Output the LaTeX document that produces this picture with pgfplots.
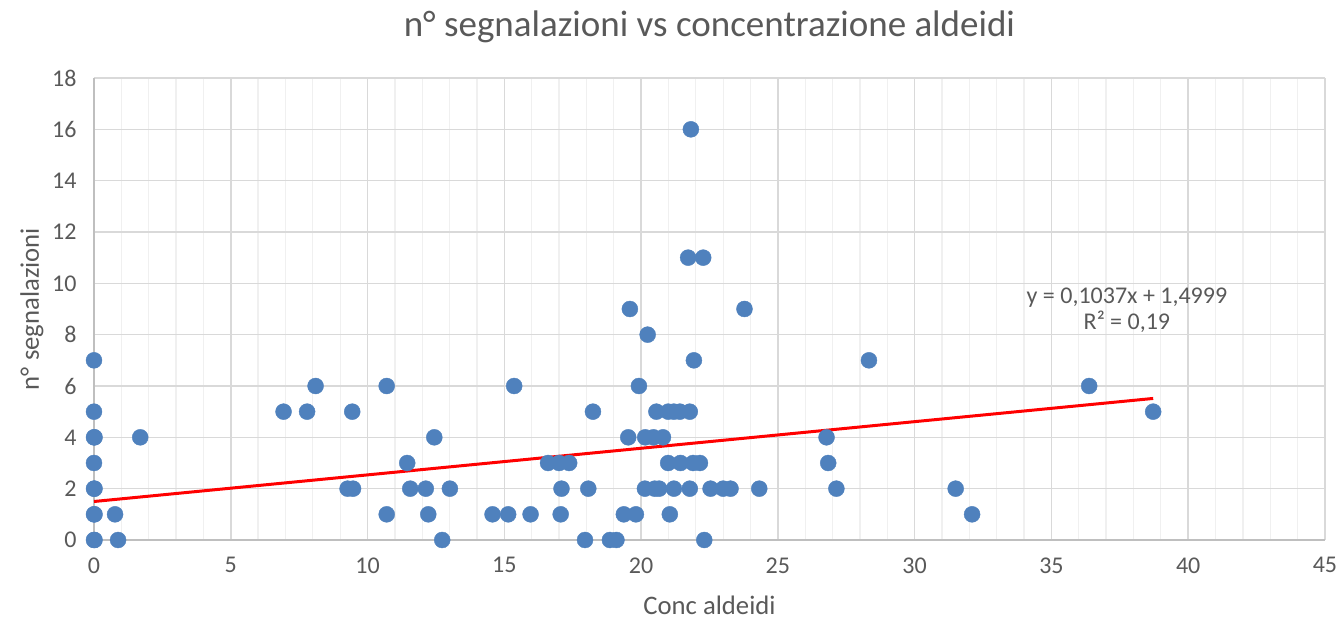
\documentclass[border=0pt]{standalone}
\usepackage{fontspec}
\setmainfont{Carlito}
\usepackage{pgfplots}
\pgfplotsset{compat=1.18}
\definecolor{dotblue}{HTML}{4F81BD}
\definecolor{txtgray}{HTML}{595959}
\definecolor{gridmaj}{HTML}{D9D9D9}
\definecolor{gridmin}{HTML}{F0F0F0}
\definecolor{axgray}{HTML}{BFBFBF}

\begin{document}
\begin{tikzpicture}
\begin{axis}[
    name=ax,
    scale only axis,
    width=1231pt, height=462pt,
    xmin=0, xmax=45, ymin=0, ymax=18,
    xtick={0,5,...,45}, ytick={0,2,...,18},
    minor x tick num=4,
    grid=both,
    major grid style={gridmaj, line width=1.5pt},
    minor grid style={gridmin, line width=1.3pt},
    major tick length=0pt, minor tick length=0pt,
    axis x line*=bottom, axis y line*=left,
    x axis line style={axgray, line width=1.6pt, -},
    y axis line style={axgray, line width=1.3pt, -},
    /pgf/number format/assume math mode=true,
    ticklabel style={font=\fontsize{24}{28}\selectfont, text=txtgray},
    yticklabel style={xshift=-14pt},
    xticklabel style={yshift=-14pt},
    title={n° segnalazioni vs concentrazione aldeidi},
    title style={font=\fontsize{37}{44}\selectfont, text=txtgray,
        at={(axis description cs:0.5,1)}, anchor=base, yshift=35pt},
    xlabel={Conc aldeidi},
    xlabel style={font=\fontsize{26.7}{32}\selectfont, text=txtgray,
        at={(axis description cs:0.5,0)}, anchor=base, yshift=-75pt},
    ylabel={n° segnalazioni},
    ylabel style={font=\fontsize{26.7}{32}\selectfont, text=txtgray,
        at={(axis description cs:-0.0504,0.5)}, anchor=center},
    clip=false,
]
% scatter points
\addplot[only marks, color=dotblue, mark=*, mark size=8pt, mark options={draw=dotblue, fill=dotblue}] coordinates {
(0,0)(0.02,0)(0,1)(0.02,1)(0,2)(0.02,2)(0,3)(0,4)(0.02,4)(0,5)(0,7)
(0.77,1)(0.88,0)(1.69,4)
(6.93,5)(7.79,5)(8.1,6)(9.27,2)(9.47,2)(9.44,5)
(10.7,6)(10.7,1)(11.45,3)(11.56,2)(12.13,2)(12.22,1)(12.44,4)(12.73,0)(13.01,2)
(14.57,1)(15.14,1)(15.36,6)(15.96,1)
(16.6,3)(17.0,3)(17.37,3)(17.06,1)(17.09,2)(17.95,0)(18.07,2)(18.24,5)
(18.86,0)(19.1,0)(19.37,1)(19.81,1)(19.53,4)(19.59,9)(19.92,6)
(20.14,2)(20.5,2)(20.66,2)(20.15,4)(20.45,4)(20.8,4)(20.24,8)(20.56,5)
(20.99,5)(21.2,5)(21.42,5)(21.78,5)(20.99,3)(21.44,3)(21.9,3)(22.15,3)
(21.05,1)(21.2,2)(21.78,2)(21.72,11)(21.82,16)(21.93,7)(22.27,11)(22.31,0)
(22.54,2)(23.0,2)(23.27,2)(23.78,9)(24.32,2)
(26.78,4)(26.84,3)(27.14,2)(28.33,7)(31.5,2)(32.1,1)(36.38,6)(38.72,5)
};
% linear trend line
\addplot[red, line width=3pt] coordinates {(0,1.4999) (38.72,5.515)};
\node[align=center, text=txtgray, font=\fontsize{24}{26}\selectfont]
    at (axis cs:37.76,8.96) {y = 0,1037x + 1,4999\\R² = 0,19};
\end{axis}
\path (ax.south west) ++(-94pt,-80pt) rectangle ++(1341pt,620pt);
\end{tikzpicture}
\end{document}
